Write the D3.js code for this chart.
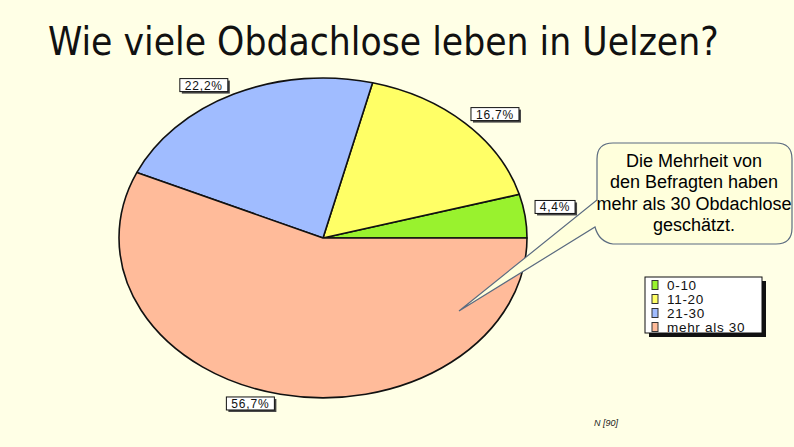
<!DOCTYPE html>
<html><head><meta charset="utf-8">
<script src="https://cdn.jsdelivr.net/npm/d3@7"></script>
<style>html,body{margin:0;padding:0;background:#FFFFE6;}svg{display:block;}</style>
</head><body>
<svg id="c" width="794" height="447"></svg>
<script>
const categories = ["0-10", "11-20", "21-30", "mehr als 30"];
const values = [4.4, 16.7, 22.2, 56.7];
const valueLabels = ["4,4%", "16,7%", "22,2%", "56,7%"];
const colors = ["#99F22E", "#FFFF66", "#A0BCFF", "#FFBB9A"];
const titleText = "Wie viele Obdachlose leben in Uelzen?";
const calloutLines = ["Die Mehrheit von", "den Befragten haben", "mehr als 30 Obdachlose", "geschätzt."];
const noteText = "N [90]";

const svg = d3.select("#c");
svg.append("rect").attr("width", 794).attr("height", 447).attr("fill", "#FFFFE6");

svg.append("text").attr("x", 48).attr("y", 55)
  .attr("font-family", "DejaVu Sans Condensed, DejaVu Sans").attr("font-stretch", "condensed")
  .attr("font-size", 38.6).attr("fill", "#111")
  .text(titleText);

const cx = 323, cy = 238, rx = 204, ry = 160;
const pie = d3.pie().sort(null).value(d => d).startAngle(Math.PI / 2).endAngle(Math.PI / 2 - 2 * Math.PI);
const arcs = pie(values);
const arc = d3.arc().innerRadius(0).outerRadius(1);

const g = svg.append("g").attr("transform", `translate(${cx},${cy}) scale(${rx},${ry})`);
g.selectAll("path").data(arcs).join("path")
  .attr("d", arc)
  .attr("fill", (d, i) => colors[i])
  .attr("stroke", "#111").attr("stroke-width", 1.6)
  .attr("vector-effect", "non-scaling-stroke")
  .attr("stroke-linejoin", "round");

// labels
arcs.forEach((d, i) => {
  const a = (d.startAngle + d.endAngle) / 2; // d3 angle: 0 at top, clockwise
  const ex = cx + rx * Math.sin(a), ey = cy - ry * Math.cos(a);
  const lx = ex + Math.sign(Math.sin(a)) * 30;
  const ly = ey - Math.sign(Math.cos(a)) * 9;
  const w = valueLabels[i].length > 4 ? 48 : 40, h = 13;
  const lg = svg.append("g");
  lg.append("rect").attr("x", lx - w / 2 + 2).attr("y", ly - h / 2 + 2).attr("width", w).attr("height", h).attr("fill", "#444");
  lg.append("rect").attr("x", lx - w / 2).attr("y", ly - h / 2).attr("width", w).attr("height", h)
    .attr("fill", "#fff").attr("stroke", "#111").attr("stroke-width", 1);
  lg.append("text").attr("x", lx).attr("y", ly + 4.5).attr("text-anchor", "middle")
    .attr("font-family", "Liberation Sans, Arial").attr("font-size", 12).attr("fill", "#111")
    .attr("letter-spacing", 0.8)
    .text(valueLabels[i]);
});

// callout
const bx = 597, by = 143, bw = 195, bh = 101, r = 16;
const tip = [459, 311];
const p = d3.path();
p.moveTo(bx + r, by);
p.lineTo(bx + bw - r, by);
p.quadraticCurveTo(bx + bw, by, bx + bw, by + r);
p.lineTo(bx + bw, by + bh - r);
p.quadraticCurveTo(bx + bw, by + bh, bx + bw - r, by + bh);
p.lineTo(bx + r, by + bh);
p.quadraticCurveTo(bx + 2, by + bh - 2, bx - 2, by + 84);
p.lineTo(tip[0], tip[1]);
p.lineTo(bx, by + 57);
p.lineTo(bx, by + r);
p.quadraticCurveTo(bx, by, bx + r, by);
p.closePath();
svg.append("path").attr("d", p.toString()).attr("fill", "#FFFFDC")
  .attr("stroke", "#5B6B80").attr("stroke-width", 1.2);
svg.append("g").selectAll("text").data(calloutLines).join("text")
  .attr("x", 694).attr("y", (d, i) => 167 + i * 21.3)
  .attr("text-anchor", "middle").attr("font-family", "Liberation Sans, Arial")
  .attr("font-size", 18).attr("fill", "#000").text(d => d);

// legend
const lx0 = 645, ly0 = 277, lw = 117, lh = 56;
svg.append("rect").attr("x", lx0 + 4).attr("y", ly0 + 4).attr("width", lw).attr("height", lh).attr("fill", "#111");
svg.append("rect").attr("x", lx0).attr("y", ly0).attr("width", lw).attr("height", lh)
  .attr("fill", "#fff").attr("stroke", "#111").attr("stroke-width", 1);
const leg = svg.append("g").selectAll("g").data(categories).join("g")
  .attr("transform", (d, i) => `translate(${lx0 + 7},${ly0 + 8 + i * 14})`);
leg.append("rect").attr("x", 0).attr("y", -4.5).attr("width", 6).attr("height", 9)
  .attr("fill", (d, i) => colors[i]).attr("stroke", "#333").attr("stroke-width", 1);
leg.append("text").attr("x", 15).attr("y", 4.5).attr("font-family", "Liberation Sans, Arial")
  .attr("font-size", 13.5).attr("fill", "#111").attr("letter-spacing", 0.7).text(d => d);

svg.append("text").attr("x", 594).attr("y", 426).attr("font-family", "Liberation Sans, Arial")
  .attr("font-size", 9).attr("font-style", "italic").attr("fill", "#222").text(noteText);
</script>
</body></html>
